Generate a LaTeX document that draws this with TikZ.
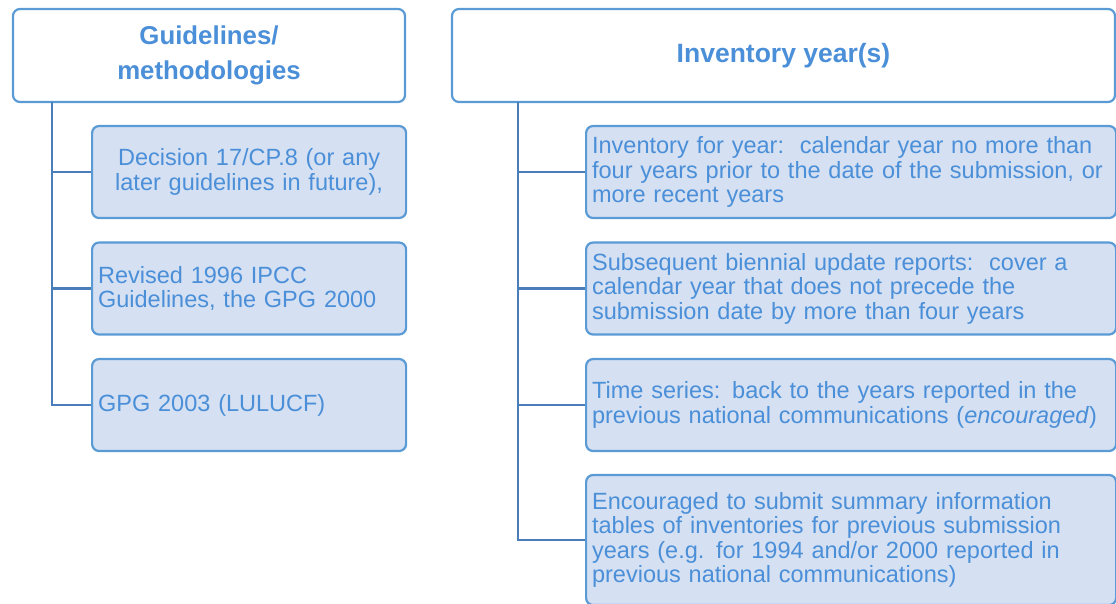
\documentclass[tikz,border=0pt]{standalone}
\usepackage{fontspec}
\setmainfont{Liberation Sans}
\definecolor{bord}{HTML}{5B9BD5}
\definecolor{txt}{HTML}{4A8FD8}
\definecolor{leaffill}{HTML}{D5E0F2}
\definecolor{trunk}{HTML}{4A7EBB}
\tikzset{
 hdr/.style={draw=bord, line width=2.2pt, rounded corners=7pt, fill=white, text=txt,
   font=\bfseries\fontsize{25.8}{35}\selectfont, align=center, inner sep=0pt},
 leaf/.style={draw=bord, line width=2.2pt, rounded corners=7pt, fill=leaffill, text=txt,
   font=\fontsize{23.5}{24.5}\selectfont, inner xsep=6pt, inner ysep=0pt, anchor=west},
 lleaf/.style={leaf, minimum width=314pt, minimum height=92pt, text width=302pt},
 rleaf/.style={leaf, minimum width=530pt, minimum height=92pt, text width=518pt},
 conn/.style={draw=trunk, line width=2.8pt}
}
\begin{document}
\begin{tikzpicture}
\useasboundingbox (0,0) rectangle (1116pt,-603pt);
\clip (0,0) rectangle (1116pt,-603pt);
% headers
\node[hdr, minimum width=392pt, minimum height=93pt] (hL) at (209pt,-55.5pt) {Guidelines/\\methodologies};
\node[hdr, minimum width=663pt, minimum height=93pt, font=\bfseries\fontsize{26.5}{30}\selectfont] (hR) at (783.5pt,-55.5pt) {Inventory year(s)};
% left leaves
\node[lleaf, align=center] (l1) at (91pt,-172pt) {Decision 17/CP.8 (or any\\later guidelines in future),};
\node[lleaf, align=left] (l2) at (91pt,-288.5pt) {Revised 1996 IPCC\\Guidelines, the GPG 2000};
\node[lleaf, align=left] (l3) at (91pt,-405pt) {GPG 2003 (LULUCF)};
% right leaves
\node[rleaf, align=left] (r1) at (585pt,-172pt) {Inventory for year:\ \ calendar year no more than\\four years prior to the date of the submission, or\\more recent years};
\node[rleaf, align=left] (r2) at (585pt,-288.5pt) {Subsequent biennial update reports:\ \ cover a\\calendar year that does not precede the\\submission date by more than four years};
\node[rleaf, align=left] (r3) at (585pt,-405pt) {Time series: back to the years reported in the\\previous national communications (\textit{encouraged})};
\node[rleaf, align=left, minimum height=130pt] (r4) at (585pt,-540pt) {Encouraged to submit summary information\\tables of inventories for previous submission\\years (e.g. for 1994 and/or 2000 reported in\\previous national communications)};
% connectors
\coordinate (tL) at (52pt,-102pt);
\coordinate (tR) at (518pt,-102pt);
\draw[conn] (tL) |- (l3.west);
\draw[conn] (tL |- l1.west) -- (l1.west);
\draw[conn] (tL |- l2.west) -- (l2.west);
\draw[conn] (tR) |- (r4.west);
\draw[conn] (tR |- r1.west) -- (r1.west);
\draw[conn] (tR |- r2.west) -- (r2.west);
\draw[conn] (tR |- r3.west) -- (r3.west);
\end{tikzpicture}
\end{document}
